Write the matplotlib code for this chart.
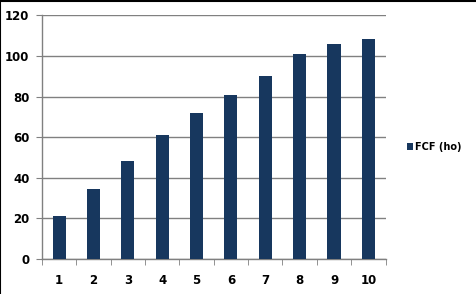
import matplotlib
matplotlib.use('Agg')
import matplotlib.pyplot as plt
import numpy as np

categories = ['1', '2', '3', '4', '5', '6', '7', '8', '9', '10']
fcf_values = [21.2, 34.5, 48.3, 60.9, 71.9, 80.8, 90.1, 101.0, 105.9, 108.4]
series_name = 'FCF (ho)'

bar_color = '#17375E'
grid_color = '#808080'

fig = plt.figure(figsize=(4.76, 2.94), dpi=100)
ax = fig.add_axes([0.088, 0.119, 0.722, 0.829])

x = np.arange(1, len(categories) + 1)
ax.bar(x, fcf_values, width=0.38, color=bar_color, label=series_name, zorder=3)

ax.set_xlim(0.5, len(categories) + 0.5)
ax.set_ylim(0, 120)
ax.set_yticks(range(0, 121, 20))
ax.set_xticks(x)
ax.set_xticklabels(categories)
ax.set_xticks(np.arange(0.5, len(categories) + 1, 1), minor=True)

ax.grid(axis='y', color=grid_color, linewidth=1, zorder=0)
for s in ['top', 'right']:
    ax.spines[s].set_visible(False)
for s in ['left', 'bottom']:
    ax.spines[s].set_color(grid_color)
    ax.spines[s].set_linewidth(1)

ax.tick_params(axis='x', which='major', length=0, pad=11)
ax.tick_params(axis='x', which='minor', length=4, color=grid_color, direction='out')
ax.tick_params(axis='y', length=4, color=grid_color, pad=5)
for lbl in ax.get_xticklabels() + ax.get_yticklabels():
    lbl.set_fontsize(8.5)
    lbl.set_fontweight('bold')

ax.legend(loc='center left', bbox_to_anchor=(0.837, 0.5), bbox_transform=fig.transFigure,
          frameon=False, handlelength=0.6, handleheight=0.8, handletextpad=0.25,
          prop={'size': 7, 'weight': 'bold'})

# outer frame lines (top and left) as in the source image
fig.add_artist(plt.Line2D([0.001, 0.001], [0, 1], color='black', linewidth=1.5, transform=fig.transFigure))
fig.add_artist(plt.Line2D([0, 1], [0.998, 0.998], color='black', linewidth=1.5, transform=fig.transFigure))

fig.savefig('out.png', dpi=100)
